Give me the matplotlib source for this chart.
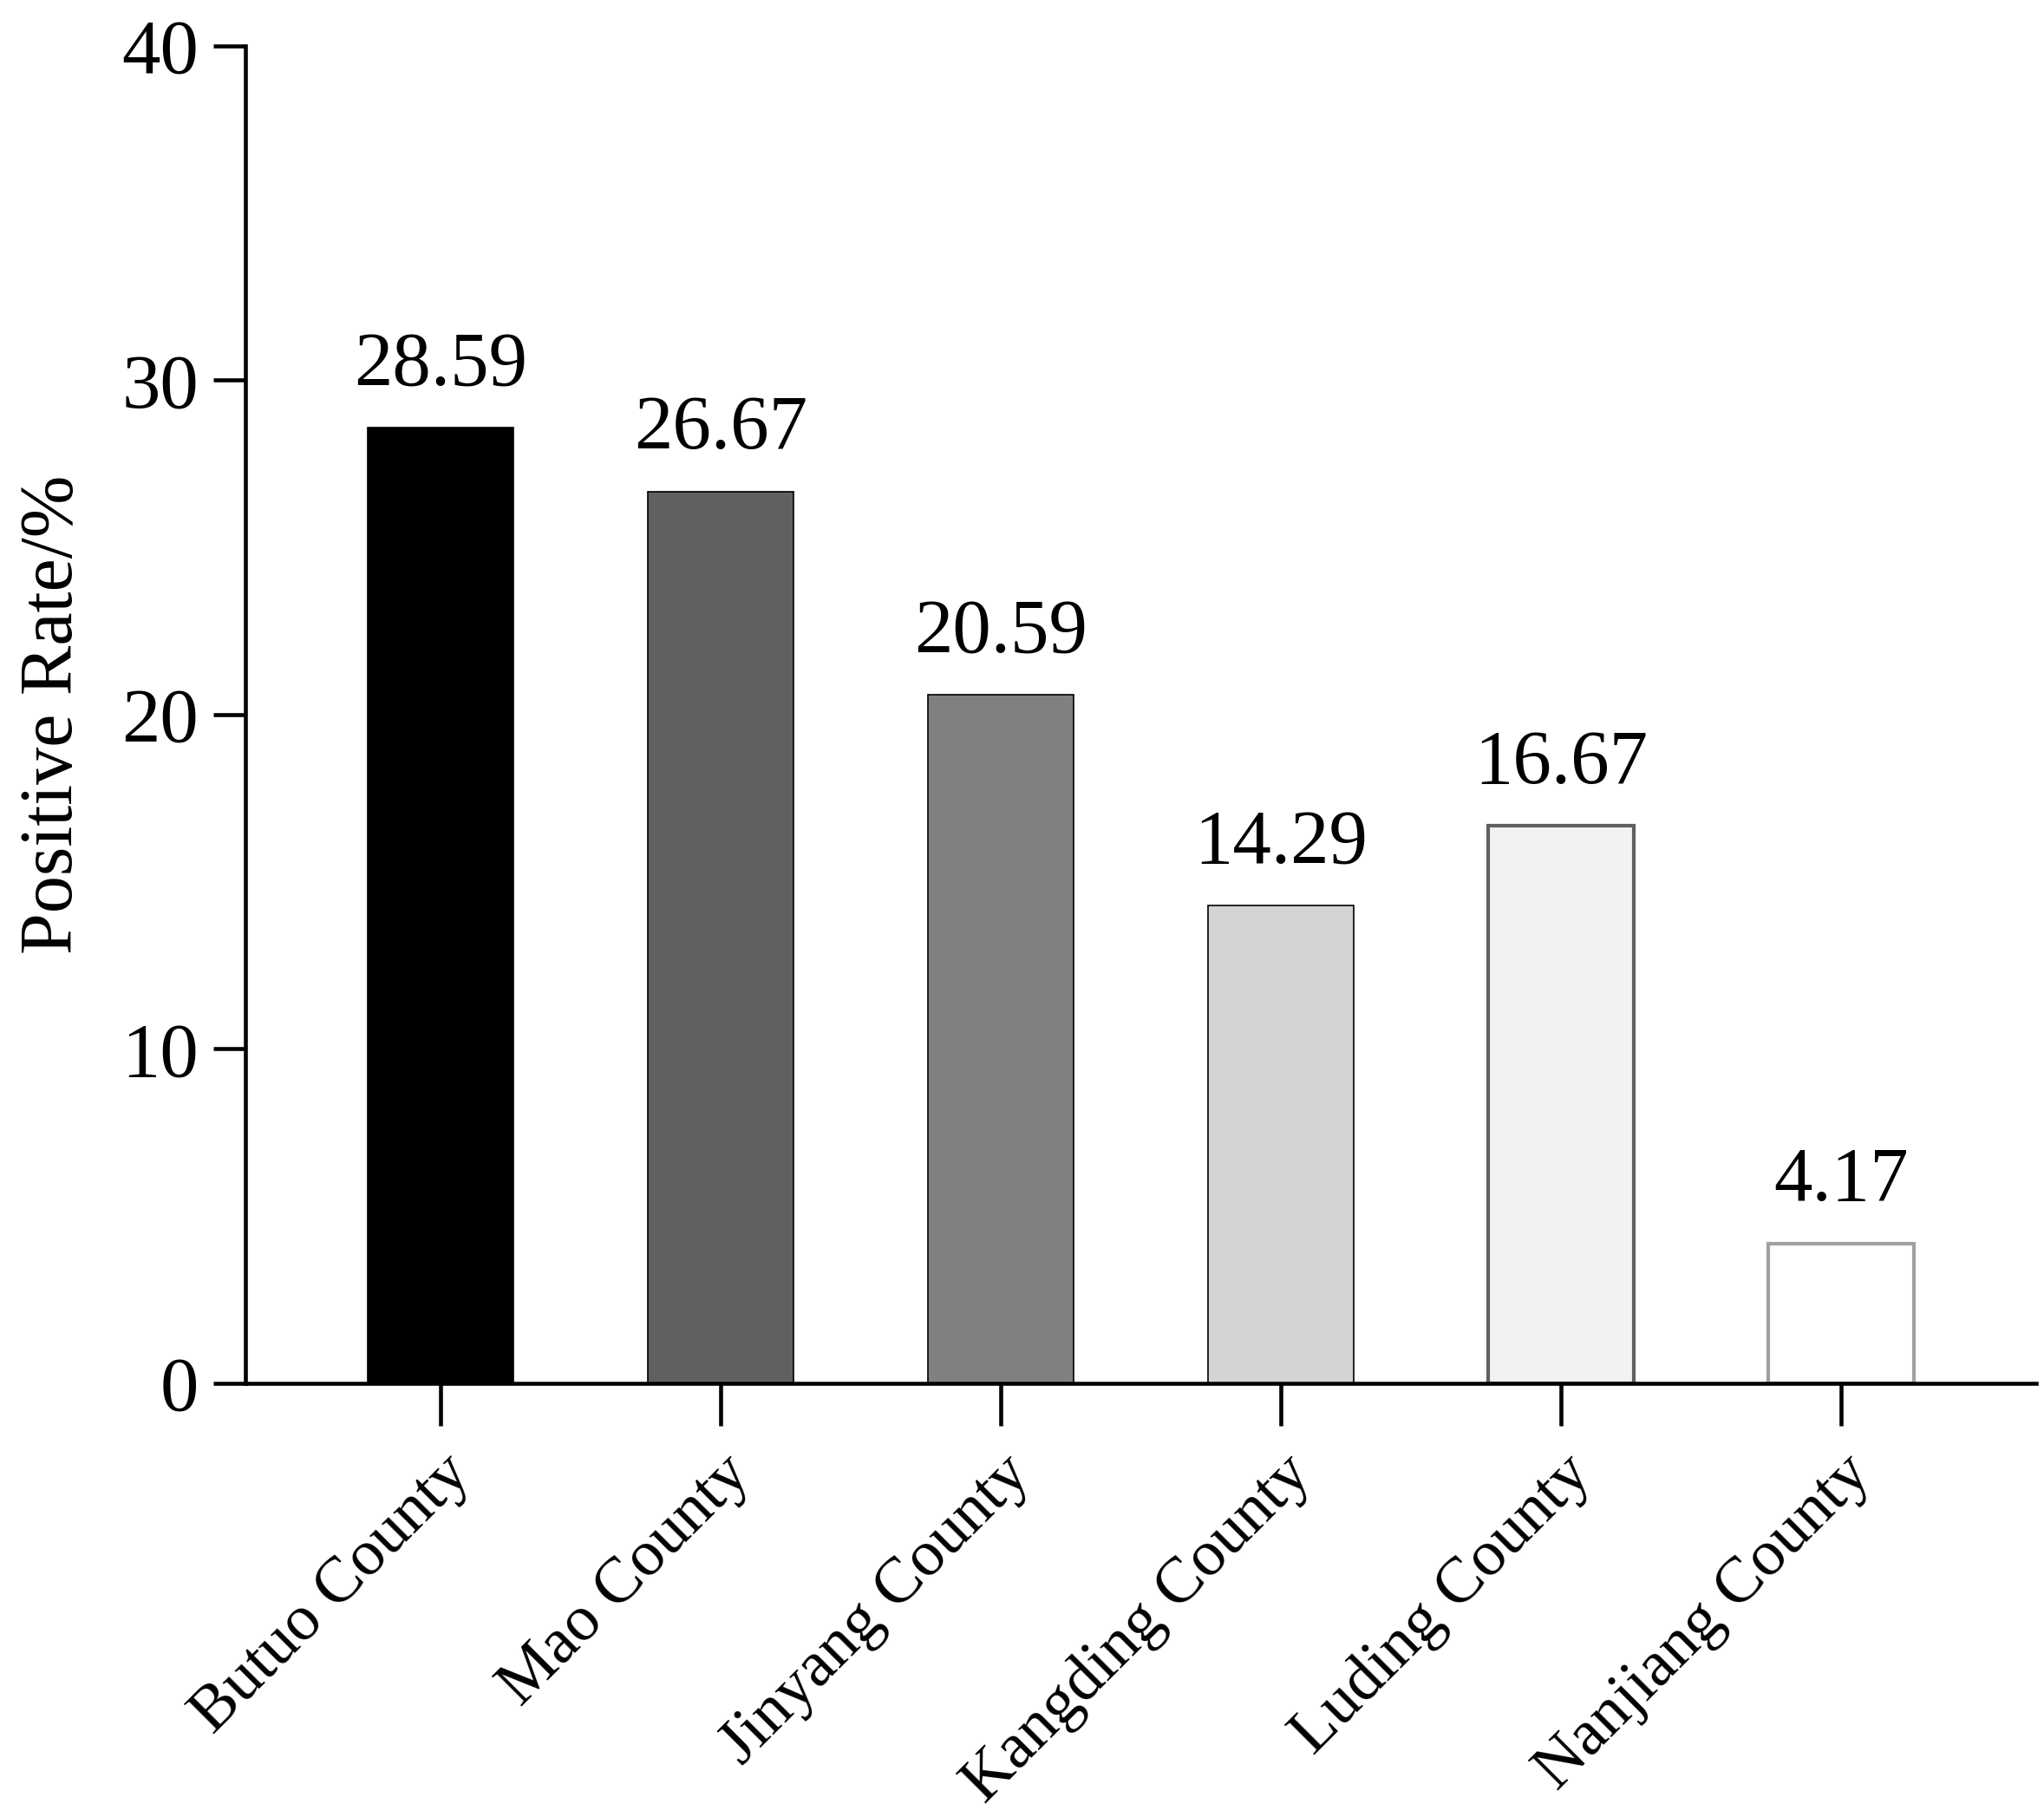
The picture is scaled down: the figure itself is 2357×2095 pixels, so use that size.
import matplotlib.pyplot as plt

counties = ['Butuo County', 'Mao County', 'Jinyang County',
            'Kangding County', 'Luding County', 'Nanjiang County']
rates = [28.59, 26.67, 20.59, 14.29, 16.67, 4.17]
fills = ['#000000', '#606060', '#808080', '#d4d4d4', '#f2f2f2', '#ffffff']
edges = ['#000000', '#000000', '#000000', '#000000', '#606060', '#a0a0a0']
edge_w = [1.2, 1.2, 1.2, 1.2, 3.0, 3.0]

plt.rcParams['font.family'] = ['Liberation Serif', 'DejaVu Serif']

fig = plt.figure(figsize=(23.57, 20.95), dpi=100)
ax = fig.add_axes([0.1202, 0.2388, 0.876, 0.736])

x = range(len(counties))
ax.bar(x, rates, width=0.52, color=fills, edgecolor=edges, linewidth=edge_w, zorder=2)

for i, v in enumerate(rates):
    ax.annotate(f'{v:.2f}', (i, v), xytext=(0, 22), textcoords='offset points',
                ha='center', va='bottom', fontsize=64)

ax.set_xlim(-0.695, 5.695)
ax.set_ylim(0, 40)
ax.set_yticks([0, 10, 20, 30, 40])
ax.set_xticks(list(x))
ax.set_xticklabels(counties, rotation=45, ha='right', rotation_mode='anchor', fontsize=54)
ax.tick_params(axis='y', labelsize=64, width=3.3, length=27, pad=12)
ax.tick_params(axis='x', width=3.3, length=35, pad=16)

ax.set_ylabel('Positive Rate/%', fontsize=62)
ax.yaxis.set_label_coords(-0.088, 0.5)

for s in ['top', 'right']:
    ax.spines[s].set_visible(False)
for s in ['left', 'bottom']:
    ax.spines[s].set_linewidth(3.3)

fig.savefig('out.png', dpi=100)
